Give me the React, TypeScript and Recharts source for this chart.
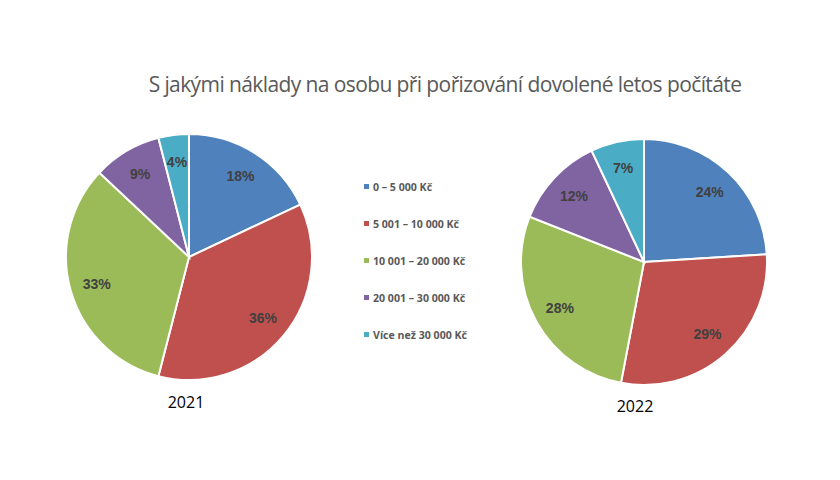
import React from 'react'
import { PieChart, Pie, Cell, Legend } from 'recharts'

const categories = ['0 – 5 000 Kč', '5 001 – 10 000 Kč', '10 001 – 20 000 Kč', '20 001 – 30 000 Kč', 'Více než 30 000 Kč']
const values2021 = [18, 36, 33, 9, 4]
const values2022 = [24, 29, 28, 12, 7]
const colors = ['#4F81BD', '#C0504D', '#9BBB59', '#8064A2', '#4BACC6']

const RAD = Math.PI / 180

const data2021 = categories.map((name, i) => ({ name, value: values2021[i] }))
const data2022 = categories.map((name, i) => ({ name, value: values2022[i] }))

const renderLabel = (props: any) => {
  const { cx, cy, midAngle, value } = props
  const r = 96
  const x = cx + r * Math.cos(-midAngle * RAD)
  const y = cy + r * Math.sin(-midAngle * RAD)
  return (
    <text
      x={x}
      y={y}
      fill="#404040"
      fontFamily="Liberation Sans, Arial, sans-serif"
      fontWeight="bold"
      fontSize={14}
      textAnchor="middle"
      dominantBaseline="central"
    >
      {`${value}%`}
    </text>
  )
}

const LegendContent = () => (
  <div>
    {categories.map((c, i) => (
      <div key={c} style={{ display: 'flex', alignItems: 'center', height: 37 }}>
        <span style={{ width: 5, height: 5, background: colors[i], marginRight: 4 }} />
        <span style={{ fontFamily: 'Open Sans, sans-serif', fontWeight: 700, fontSize: 10.6, color: '#595959' }}>{c}</span>
      </div>
    ))}
  </div>
)

const yearStyle: React.CSSProperties = {
  position: 'absolute',
  width: 80,
  height: 22,
  lineHeight: '22px',
  textAlign: 'center',
  fontFamily: 'Open Sans, sans-serif',
  fontSize: 16,
  color: '#000',
}

export default function App() {
  return (
    <div style={{ position: 'absolute', left: 0, top: 0, width: 840, height: 480, background: '#fff' }}>
      <div
        style={{
          position: 'absolute',
          left: 0,
          top: 70,
          width: 890,
          textAlign: 'center',
          fontFamily: 'Open Sans, sans-serif',
          fontSize: 21,
          color: '#595959',
          letterSpacing: -0.6,
        }}
      >
        S jakými náklady na osobu při pořizování dovolené letos počítáte
      </div>
      <PieChart width={840} height={480} margin={{ top: 0, right: 0, bottom: 0, left: 0 }}>
        <Pie
          data={data2021}
          dataKey="value"
          cx={189}
          cy={257}
          outerRadius={123}
          startAngle={90}
          endAngle={-270}
          stroke="#fff"
          strokeWidth={2}
          label={renderLabel}
          labelLine={false}
          isAnimationActive={false}
        >
          {data2021.map((d, i) => (
            <Cell key={d.name} fill={colors[i]} />
          ))}
        </Pie>
        <Pie
          data={data2022}
          dataKey="value"
          cx={644}
          cy={262}
          outerRadius={123}
          startAngle={90}
          endAngle={-270}
          stroke="#fff"
          strokeWidth={2}
          label={renderLabel}
          labelLine={false}
          isAnimationActive={false}
        >
          {data2022.map((d, i) => (
            <Cell key={d.name} fill={colors[i]} />
          ))}
        </Pie>
        <Legend
          content={<LegendContent />}
          layout="vertical"
          wrapperStyle={{ position: 'absolute', left: 364, top: 168, width: 150 }}
        />
      </PieChart>
      <div style={{ ...yearStyle, left: 146, top: 391 }}>2021</div>
      <div style={{ ...yearStyle, left: 595, top: 395 }}>2022</div>
    </div>
  )
}
